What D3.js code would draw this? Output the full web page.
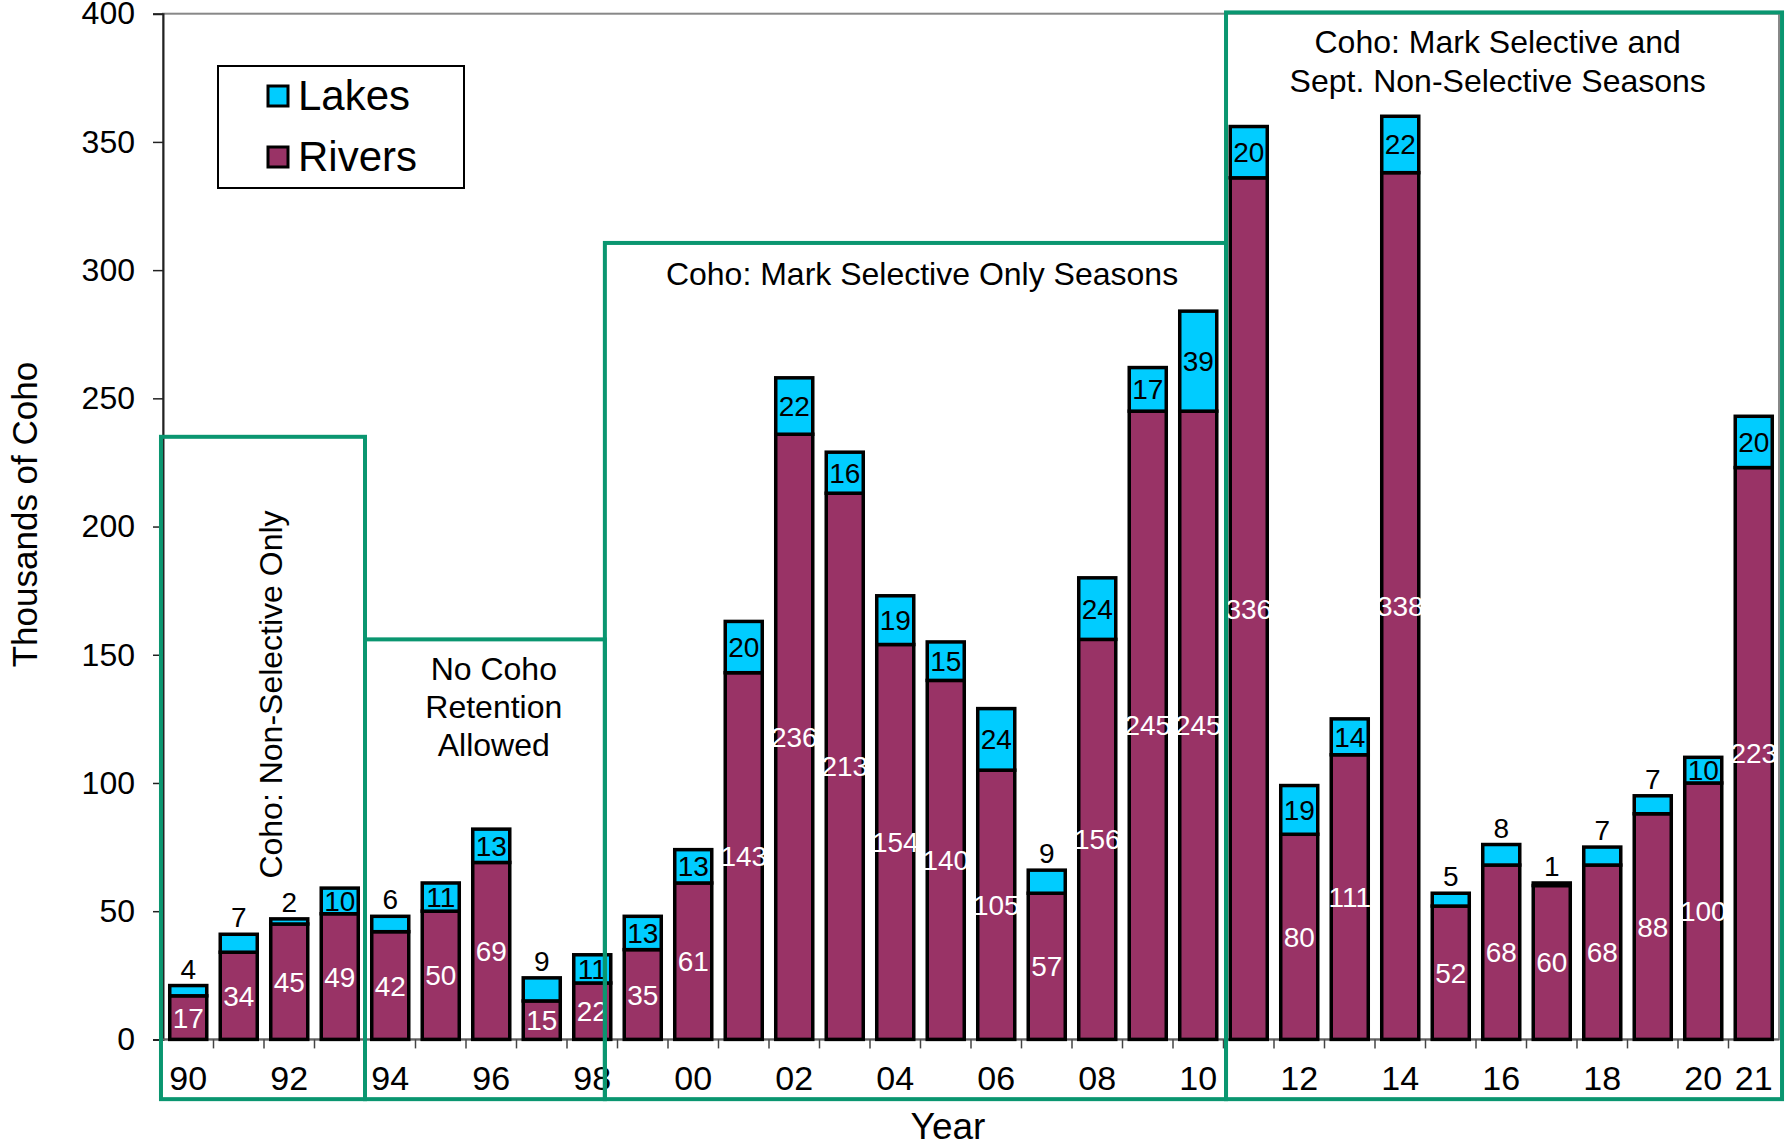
<!DOCTYPE html>
<html><head><meta charset="utf-8">
<script src="https://cdn.jsdelivr.net/npm/d3@7"></script>
<style>
html,body{margin:0;padding:0;background:#fff;}
text{font-family:"Liberation Sans",Arial,sans-serif;}
</style>
</head><body>
<svg id="chart" width="1789" height="1144"></svg>
<script>
const years = [1990,1991,1992,1993,1994,1995,1996,1997,1998,1999,2000,2001,2002,2003,2004,2005,2006,2007,2008,2009,2010,2011,2012,2013,2014,2015,2016,2017,2018,2019,2020,2021];
const rivers = [17,34,45,49,42,50,69,15,22,35,61,143,236,213,154,140,105,57,156,245,245,336,80,111,338,52,68,60,68,88,100,223];
const lakes  = [4,7,2,10,6,11,13,9,11,13,13,20,22,16,19,15,24,9,24,17,39,20,19,14,22,5,8,1,7,7,10,20];
const xTickYears = [1990,1992,1994,1996,1998,2000,2002,2004,2006,2008,2010,2012,2014,2016,2018,2020,2021];
const xTickLabels = ["90","92","94","96","98","00","02","04","06","08","10","12","14","16","18","20","21"];
const yTicks = [0,50,100,150,200,250,300,350,400];
const seriesNames = ["Lakes","Rivers"];
// annotation boxes: [startIndex, endIndex, topValue], label lines
const boxStart = [-0.04, 4, 8.75, 21.05];
const boxEnd   = [4, 8.75, 21.05, 32.06];
const boxTop   = [235, 156, 310.6, 400.5];
const boxLabels = [["Coho: Non-Selective Only"],["No Coho","Retention","Allowed"],["Coho: Mark Selective Only Seasons"],["Coho: Mark Selective and","Sept. Non-Selective Seasons"]];

const colRivers = "#993366", colLakes = "#00CCFF", green = "#0A9670";
const svg = d3.select("#chart");
const L = 163, R = 1779, T = 13.7, B = 1039.4;

const x = d3.scaleBand().domain(years).range([L,R]).paddingInner(0.267).paddingOuter(0.1335);
const y = d3.scaleLinear().domain([0,400]).range([B,T]);
const idx = d3.scaleLinear().domain([0,years.length]).range([L,R]);

// plot border
svg.append("rect").attr("x",L).attr("y",T).attr("width",R-L).attr("height",B-T)
  .attr("fill","none").attr("stroke","#888").attr("stroke-width",2);

// y axis
const yAx = svg.append("g").attr("transform",`translate(${L},0)`)
  .call(d3.axisLeft(y).tickValues(yTicks).tickSize(10).tickPadding(18));
yAx.select(".domain").attr("stroke","#222").attr("stroke-width",2);
yAx.selectAll(".tick line").attr("stroke","#222").attr("stroke-width",1.5);
yAx.selectAll(".tick text").attr("font-size",32).attr("fill","#000").attr("font-family","Liberation Sans, Arial, sans-serif");

// x axis baseline and ticks
svg.append("line").attr("x1",L).attr("x2",R).attr("y1",B).attr("y2",B).attr("stroke","#666").attr("stroke-width",2);
svg.append("g").selectAll("line").data(d3.range(1,years.length)).join("line")
  .attr("x1",d=>idx(d)).attr("x2",d=>idx(d)).attr("y1",B).attr("y2",B+9)
  .attr("stroke","#444").attr("stroke-width",1.5);
svg.append("g").selectAll("text").data(xTickYears).join("text")
  .attr("x",(d)=>x(d)+x.bandwidth()/2).attr("y",B+51)
  .attr("text-anchor","middle").attr("font-size",34).attr("fill","#000")
  .text((d,i)=>xTickLabels[i]);

// bars
const data = years.map((yr,i)=>({yr, r:rivers[i], l:lakes[i]}));
const gb = svg.append("g");
gb.selectAll(".riv").data(data).join("rect")
  .attr("x",d=>x(d.yr)).attr("width",x.bandwidth())
  .attr("y",d=>y(d.r)).attr("height",d=>y(0)-y(d.r))
  .attr("fill",colRivers).attr("stroke","#000").attr("stroke-width",3.5);
gb.selectAll(".lak").data(data).join("rect")
  .attr("x",d=>x(d.yr)).attr("width",x.bandwidth())
  .attr("y",d=>y(d.r+d.l)).attr("height",d=>y(d.r)-y(d.r+d.l))
  .attr("fill",colLakes).attr("stroke","#000").attr("stroke-width",3.5);

// labels
const gl = svg.append("g");
gl.selectAll(".rl").data(data).join("text")
  .attr("x",d=>x(d.yr)+x.bandwidth()/2).attr("y",d=>y(d.r/2)+10)
  .attr("text-anchor","middle").attr("font-size",28).attr("fill","#fff").text(d=>d.r);
gl.selectAll(".ll").data(data).join("text")
  .attr("x",d=>x(d.yr)+x.bandwidth()/2)
  .attr("y",d=> d.l>=10 ? y(d.r+d.l/2)+10 : y(d.r+d.l)-7)
  .attr("text-anchor","middle").attr("font-size",28).attr("fill","#000").text(d=>d.l);

// annotation boxes
const ga = svg.append("g");
boxStart.forEach((s,i)=>{
  ga.append("rect").attr("x",idx(s)).attr("y",y(boxTop[i]))
    .attr("width",idx(boxEnd[i])-idx(s)).attr("height",y(-23.3)-y(boxTop[i]))
    .attr("fill","none").attr("stroke",green).attr("stroke-width",4);
});
// box 1 label (rotated)
ga.append("text").attr("transform",`translate(${idx(2.13)},${y(134.5)}) rotate(-90)`)
  .attr("text-anchor","middle").attr("dy","0.35em").attr("font-size",32).text(boxLabels[0][0]);
// box 2
boxLabels[1].forEach((t,j)=>{
  ga.append("text").attr("x",idx(6.55)).attr("y",y(140.2)+j*38).attr("text-anchor","middle")
    .attr("font-size",32).text(t);
});
// box 3
ga.append("text").attr("x",idx(15.03)).attr("y",y(294.2)).attr("text-anchor","middle").attr("font-size",32).text(boxLabels[2][0]);
// box 4
boxLabels[3].forEach((t,j)=>{
  ga.append("text").attr("x",idx(26.43)).attr("y",y(384.8)+j*39).attr("text-anchor","middle")
    .attr("font-size",32).text(t);
});

// legend
const lg = svg.append("g");
lg.append("rect").attr("x",218).attr("y",66).attr("width",246).attr("height",122)
  .attr("fill","#fff").attr("stroke","#000").attr("stroke-width",2);
seriesNames.forEach((n,i)=>{
  lg.append("rect").attr("x",268).attr("y",86+i*61).attr("width",20).attr("height",20)
    .attr("fill",i===0?colLakes:colRivers).attr("stroke","#000").attr("stroke-width",3);
  lg.append("text").attr("x",298).attr("y",110+i*61).attr("font-size",42).text(n);
});

// axis titles
svg.append("text").attr("transform",`translate(37,${(T+B)/2-12}) rotate(-90)`)
  .attr("text-anchor","middle").attr("font-size",35).text("Thousands of Coho");
svg.append("text").attr("x",948).attr("y",1139).attr("text-anchor","middle").attr("font-size",37).text("Year");
</script>
</body></html>
